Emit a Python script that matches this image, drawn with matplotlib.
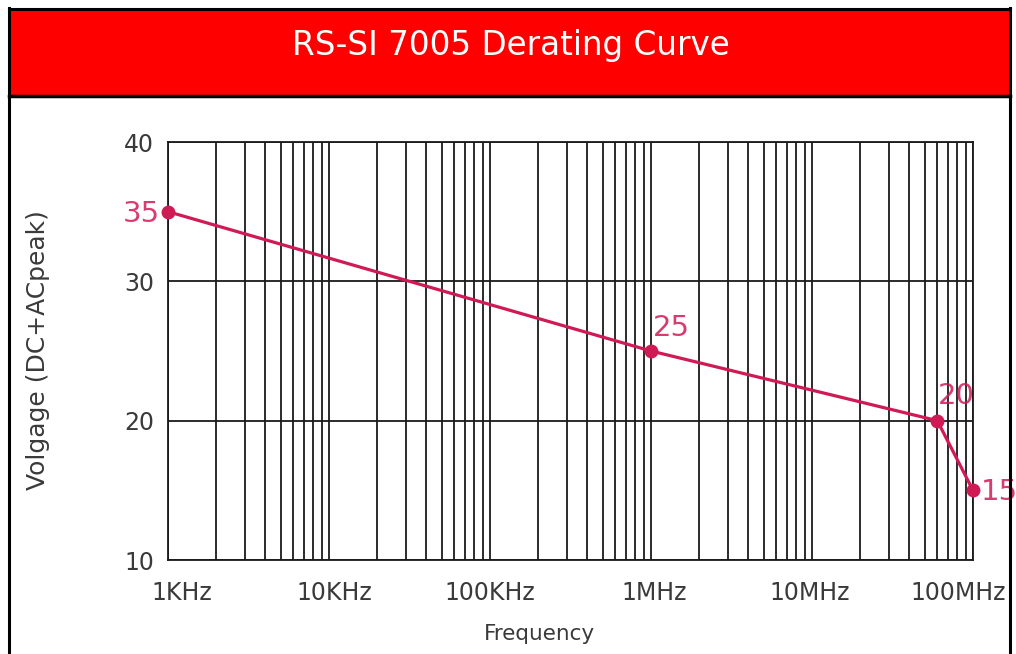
import matplotlib
matplotlib.use("Agg")
import matplotlib.pyplot as plt
from matplotlib.patches import Rectangle
from matplotlib.lines import Line2D
from matplotlib.ticker import LogLocator, NullFormatter
from matplotlib.transforms import ScaledTranslation

# data
freqs = [1e3, 1e6, 6e7, 1e8]
volts = [35, 25, 20, 15]
point_labels = ["35", "25", "20", "15"]

xtick_vals = [1e3, 1e4, 1e5, 1e6, 1e7, 1e8]
xtick_labels = ["1KHz", "10KHz", "100KHz", "1MHz", "10MHz", "100MHz"]
ytick_vals = [10, 20, 30, 40]

title = "RS-SI 7005 Derating Curve"
curve_color = "#d01a55"
text_gray = "#3a3a3a"

W, H = 1016, 654
fig = plt.figure(figsize=(W / 100, H / 100), dpi=100)

# red header bar with black frame
fig.patches.append(Rectangle((9 / W, 1 - 96 / H), 1001 / W, 87 / H,
                             transform=fig.transFigure, facecolor="#ff0000",
                             edgecolor="none", zorder=0))
frame = [((9 / W, 9 / W), (0, 1 - 8 / H)),
         ((1010 / W, 1010 / W), (0, 1 - 8 / H)),
         ((9 / W, 1010 / W), (1 - 9 / H, 1 - 9 / H))]
for xs, ys in frame:
    fig.lines.append(Line2D(xs, ys, transform=fig.transFigure, color="black", lw=2.2))
fig.lines.append(Line2D((9 / W, 1010 / W), (1 - 96 / H, 1 - 96 / H),
                        transform=fig.transFigure, color="black", lw=2.5))
fig.text(511 / W, 1 - 45 / H, title, color="white", fontsize=23.5,
         ha="center", va="center")

ax = fig.add_axes([168 / W, 1 - 560 / H, (973 - 168) / W, (560 - 142) / H])
ax.set_xscale("log")
ax.set_xlim(1e3, 1e8)
ax.set_ylim(10, 40)

ax.set_xticks(xtick_vals)
ax.set_xticklabels([])
ax.xaxis.set_minor_locator(LogLocator(base=10, subs=range(2, 10)))
ax.xaxis.set_minor_formatter(NullFormatter())
ax.set_yticks(ytick_vals)
ax.tick_params(axis="both", which="both", length=0, labelsize=17,
               labelcolor=text_gray)
ax.tick_params(axis="y", pad=10)

# x tick labels drawn by hand so the end ones can sit inside the frame
shift_px = [14, 5, 0, 3, -2, -15]
for v, lab, dx in zip(xtick_vals, xtick_labels, shift_px):
    tr = ax.get_xaxis_transform() + ScaledTranslation(dx / 100, -33 / 100, fig.dpi_scale_trans)
    ax.text(v, 0, lab, transform=tr, ha="center", va="center",
            fontsize=17, color=text_gray)

ax.grid(True, which="major", axis="both", color="#1a1a1a", lw=1.3)
ax.grid(True, which="minor", axis="x", color="#1a1a1a", lw=1.3)
for s in ax.spines.values():
    s.set_color("#1a1a1a")
    s.set_linewidth(1.3)

ax.plot(freqs, volts, color=curve_color, lw=2.3, marker="o", ms=9,
        zorder=5, clip_on=False)

offsets = [(-19, -1.5), (15, 16.5), (14, 17.5), (19, -1.5)]
for f, v, lab, off in zip(freqs, volts, point_labels, offsets):
    ax.annotate(lab, (f, v), xytext=off, textcoords="offset points",
                ha="center", va="center", fontsize=21, color=curve_color,
                alpha=0.85, annotation_clip=False, zorder=6)

ax.set_xlabel("Frequency", fontsize=15.5, color=text_gray)
ax.xaxis.set_label_coords(0.462, -0.177)
ax.xaxis.label.set_va("center")
ax.set_ylabel("Volgage (DC+ACpeak)", fontsize=18, color=text_gray)
ax.yaxis.set_label_coords(-0.1615, 0.502)
ax.yaxis.label.set_va("center")

fig.savefig("out.png", dpi=100)
